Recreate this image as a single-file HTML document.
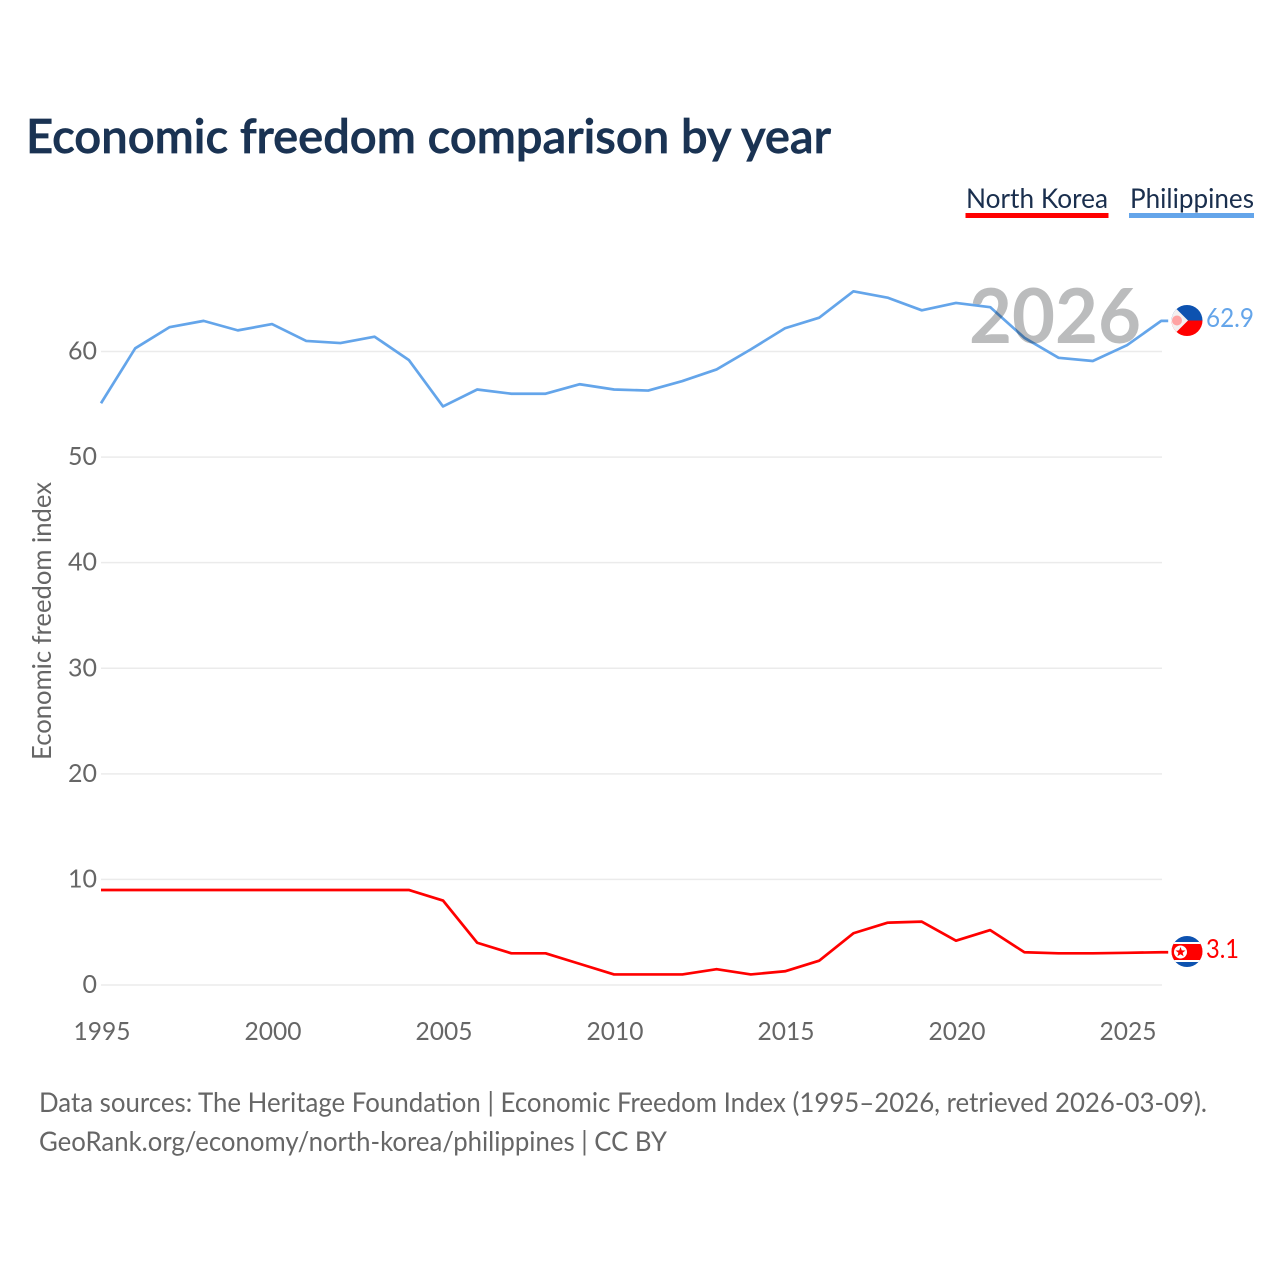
<!DOCTYPE html>
<html lang="en">
<head>
<meta charset="utf-8">
<title>Economic freedom comparison by year</title>
<style>
html,body{margin:0;padding:0;background:#fff;}
svg{display:block;}
text{font-family:"Lato","Carlito","Liberation Sans",sans-serif;}
</style>
</head>
<body>
<svg id="chart" xmlns="http://www.w3.org/2000/svg" width="1280" height="1280" viewBox="0 0 1280 1280">
  <defs>
    <clipPath id="clip-ph"><circle cx="1187" cy="320.500" r="15.500"/></clipPath>
    <clipPath id="clip-nk"><circle cx="1187" cy="951.500" r="15.500"/></clipPath>
  </defs>
  <rect width="1280" height="1280" fill="#ffffff"/>
  <text x="26" y="153" font-size="47" font-weight="600" fill="#1a3353" stroke="#1a3353" stroke-width="0.700" textLength="805" lengthAdjust="spacingAndGlyphs">Economic freedom comparison by year</text>

  <g>
    <text x="966" y="208" font-size="27" fill="#1a2f4e" textLength="142" lengthAdjust="spacingAndGlyphs">North Korea</text>
    <rect x="965.500" y="213" width="143" height="5" fill="#ff0000"/>
  </g>
  <g>
    <text x="1130" y="208" font-size="27" fill="#1a2f4e" textLength="124" lengthAdjust="spacingAndGlyphs">Philippines</text>
    <rect x="1129" y="213" width="125" height="5" fill="#64a5ea"/>
  </g>

  <g id="grid"></g>
  <g id="y-ticks"></g>
  <g id="x-ticks"></g>
  <text transform="translate(51,621) rotate(-90)" text-anchor="middle" font-size="26" fill="#666666" textLength="278" lengthAdjust="spacingAndGlyphs">Economic freedom index</text>

  <g id="series"></g>
  <text x="1055" y="343" text-anchor="middle" font-size="76" font-weight="700" fill="#bbbcbd" textLength="172" lengthAdjust="spacingAndGlyphs" style="mix-blend-mode:multiply">2026</text>

  <g clip-path="url(#clip-ph)">
    <rect x="1171" y="304" width="32" height="16.500" fill="#0d52b0"/>
    <rect x="1171" y="320.500" width="32" height="16.500" fill="#ff0000"/>
    <polygon points="1171,303.500 1188,320.500 1171,337.500" fill="#f4f0f0"/>
    <circle cx="1177" cy="320.500" r="5" fill="#ffa3a3"/>
  </g>
  <g clip-path="url(#clip-nk)">
    <rect x="1171" y="935" width="32" height="33" fill="#0d52b0"/>
    <rect x="1171" y="942" width="32" height="20" fill="#ffffff"/>
    <rect x="1171" y="944" width="32" height="16" fill="#ff0000"/>
    <circle cx="1180.500" cy="952" r="6.500" fill="#ffffff"/>
    <polygon points="1180.500,947 1181.800,950.400 1185.500,950.500 1182.600,952.800 1183.600,956.300 1180.500,954.300 1177.400,956.300 1178.400,952.800 1175.500,950.500 1179.200,950.400" fill="#ff0000"/>
  </g>
  <text id="label-ph" x="1206" y="327" font-size="26" fill="#64a5ea" textLength="48" lengthAdjust="spacingAndGlyphs"></text>
  <text id="label-nk" x="1206" y="958" font-size="26" fill="#ff0000" textLength="33" lengthAdjust="spacingAndGlyphs"></text>

  <text x="39" y="1112" font-size="27" fill="#666666" textLength="1168" lengthAdjust="spacingAndGlyphs">Data sources: The Heritage Foundation | Economic Freedom Index (1995–2026, retrieved 2026-03-09).</text>
  <text x="39" y="1151" font-size="27" fill="#666666" textLength="628" lengthAdjust="spacingAndGlyphs">GeoRank.org/economy/north-korea/philippines | CC BY</text>
</svg>
<script>
const years = [1995,1996,1997,1998,1999,2000,2001,2002,2003,2004,2005,2006,2007,2008,2009,2010,2011,2012,2013,2014,2015,2016,2017,2018,2019,2020,2021,2022,2023,2024,2025,2026];
const philippines = [55.1,60.3,62.3,62.9,62.0,62.6,61.0,60.8,61.4,59.2,54.8,56.4,56.0,56.0,56.9,56.4,56.3,57.2,58.3,60.2,62.2,63.2,65.7,65.1,63.9,64.6,64.2,61.3,59.4,59.1,60.6,62.9];
const northKorea = [9.0,9.0,9.0,9.0,9.0,9.0,9.0,9.0,9.0,9.0,8.0,4.0,3.0,3.0,2.0,1.0,1.0,1.0,1.5,1.0,1.3,2.3,4.9,5.9,6.0,4.2,5.2,3.1,3.0,3.0,3.05,3.1];
const yTickValues = [0,10,20,30,40,50,60];
const xTickValues = [1995,2000,2005,2010,2015,2020,2025];

const NS = 'http://www.w3.org/2000/svg';
const xStep = 34.2;
function xScale(year){ return 101 + (year - 1995) * xStep; }
function yScale(value){ return 985 - value * (985 - 351.5) / 60; }
function make(tag, attrs, parent){
  const el = document.createElementNS(NS, tag);
  for (const key in attrs) el.setAttribute(key, attrs[key]);
  parent.appendChild(el);
  return el;
}

const gridGroup = document.getElementById('grid');
const yGroup = document.getElementById('y-ticks');
yTickValues.forEach(function(value){
  const line = make('line', {x1: 101, x2: 1162, y1: yScale(value), y2: yScale(value), stroke: '#ebebeb', 'stroke-width': 1.500}, gridGroup);
  
  
  const label = make('text', {x: 97, y: yScale(value) + 8, 'text-anchor': 'end', 'font-size': 25, fill: '#666666'}, yGroup);
  
  
  label.textContent = String(value);
});

const xGroup = document.getElementById('x-ticks');
xTickValues.forEach(function(year){
  const label = make('text', {x: xScale(year) + 1, y: 1040, 'text-anchor': 'middle', 'font-size': 25, fill: '#666666', textLength: 57, lengthAdjust: 'spacingAndGlyphs'}, xGroup);
  
  
  label.textContent = String(year);
});

function linePoints(values){
  const pts = values.map(function(value, i){ return xScale(years[i]) + ',' + yScale(value); });
  const last = values[values.length - 1];
  pts.push((xScale(years[years.length - 1]) + 7) + ',' + yScale(last));
  return pts.join(' ');
}
const seriesGroup = document.getElementById('series');
const nkLine = make('polyline', {points: linePoints(northKorea), fill: 'none', stroke: '#ff0000', 'stroke-width': 2.700, 'stroke-linejoin': 'round'}, seriesGroup);


const phLine = make('polyline', {points: linePoints(philippines), fill: 'none', stroke: '#64a5ea', 'stroke-width': 2.700, 'stroke-linejoin': 'round'}, seriesGroup);



document.getElementById('label-ph').textContent = philippines[philippines.length - 1].toFixed(1);
document.getElementById('label-nk').textContent = northKorea[northKorea.length - 1].toFixed(1);
</script>
</body>
</html>
